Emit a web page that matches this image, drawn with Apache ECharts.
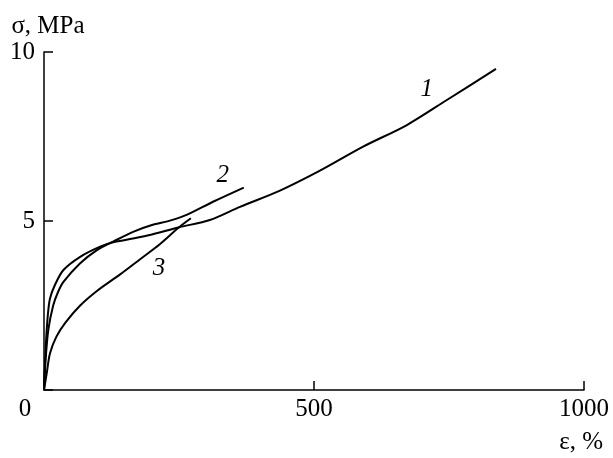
<!DOCTYPE html>
<html>
<head>
<meta charset="utf-8">
<script src="https://cdn.jsdelivr.net/npm/echarts@6/dist/echarts.min.js"></script>
<style>
  html, body { margin: 0; padding: 0; background: #fff; }
  #chart { width: 613px; height: 458px; }
</style>
</head>
<body>
<div id="chart"></div>
<script>
// Stress–strain curves: strain ε (%) vs stress σ (MPa)
const xTicks = [0, 500, 1000];
const yTicks = [0, 5, 10];

const curve1 = [[0,0],[2,0.8],[4,1.5],[7,2.2],[11,2.7],[20,3.1],[36,3.55],[67,3.94],[104,4.24],[128,4.37],[165,4.48],[200,4.6],[249,4.81],[307,5.03],[363,5.42],[437,5.9],[511,6.49],[591,7.2],[672,7.84],[746,8.58],[837,9.5]];
const curve2 = [[0,0],[3,0.9],[8,1.78],[17,2.5],[26,2.9],[36,3.2],[67,3.75],[98,4.14],[128,4.39],[165,4.68],[200,4.88],[233,5.01],[264,5.18],[313,5.57],[370,5.99]];
const curve3 = [[0,0],[5,0.49],[11,1.08],[23,1.58],[40,2.0],[67,2.5],[98,2.93],[141,3.42],[178,3.87],[215,4.32],[249,4.8],[272,5.08]];

// Curve numbers placed beside each line
const curveTags = [[709, 8.88, '1'], [331, 6.36, '2'], [213, 3.61, '3']];

const FONT = 'Liberation Serif';
const SIZE = 25;
const ink = '#000';

function lineSeries(data) {
  return {
    type: 'line',
    data: data,
    showSymbol: false,
    smooth: 0.3,
    lineStyle: { color: ink, width: 2 },
    silent: true
  };
}

const chart = echarts.init(document.getElementById('chart'), null, { renderer: 'canvas' });
chart.setOption({
  animation: false,
  backgroundColor: '#fff',
  title: {
    text: 'ε, %',
    right: 10,
    top: 430,
    padding: 0,
    textStyle: { fontFamily: FONT, fontSize: SIZE, fontWeight: 'normal', color: ink }
  },
  grid: { left: 44, right: 29, top: 52, bottom: 68, containLabel: false, outerBoundsMode: 'none' },
  xAxis: {
    type: 'value',
    min: xTicks[0], max: xTicks[xTicks.length - 1], interval: 500,
    axisLine: { lineStyle: { color: ink, width: 1.5 } },
    axisTick: { inside: true, length: 9, lineStyle: { color: ink, width: 1.5 } },
    axisLabel: {
      margin: 7,
      fontFamily: FONT, fontSize: SIZE, color: ink,
      formatter: v => v === 0 ? '{z|0}' : String(v),
      rich: { z: { fontFamily: FONT, fontSize: SIZE, color: ink, padding: [0, 38, 0, 0] } }
    },
    splitLine: { show: false }
  },
  yAxis: {
    type: 'value',
    min: yTicks[0], max: yTicks[yTicks.length - 1], interval: 5,
    name: 'σ, MPa',
    nameLocation: 'end',
    nameGap: 26,
    nameTextStyle: { fontFamily: FONT, fontSize: SIZE, color: ink, align: 'center', verticalAlign: 'middle', padding: [0, 0, 0, 8] },
    axisLine: { show: true, lineStyle: { color: ink, width: 1.5 } },
    axisTick: { show: true, inside: true, length: 9, lineStyle: { color: ink, width: 1.5 } },
    axisLabel: {
      margin: 9,
      fontFamily: FONT, fontSize: SIZE, color: ink,
      formatter: v => v === 0 ? '' : String(v)
    },
    splitLine: { show: false }
  },
  series: [
    lineSeries(curve1),
    lineSeries(curve2),
    lineSeries(curve3),
    {
      type: 'scatter',
      data: curveTags,
      symbolSize: 0,
      silent: true,
      itemStyle: { color: ink, opacity: 1 },
      label: {
        show: true,
        position: 'inside',
        formatter: p => p.value[2],
        fontFamily: FONT, fontSize: SIZE, fontStyle: 'italic', color: ink,
        textBorderWidth: 0
      }
    }
  ]
});
</script>
</body>
</html>
